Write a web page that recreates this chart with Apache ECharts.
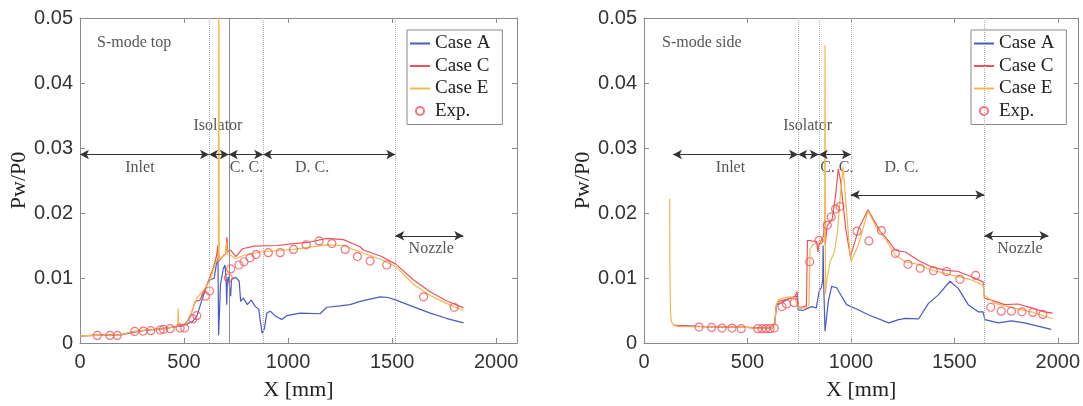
<!DOCTYPE html>
<html>
<head>
<meta charset="utf-8">
<title>S-mode wall pressure</title>
<script src="https://cdn.jsdelivr.net/npm/echarts@6.0.0/dist/echarts.min.js"></script>
<style>
  html, body { margin: 0; padding: 0; background: #fff; }
  #chart { width: 1083px; height: 406px; }
</style>
</head>
<body>
<div id="chart"></div>
<script>
// ---------- S-mode top wall: [X mm, Pw/P0] ----------
const topCaseA = [
  [0, 0.0011], [100, 0.0012], [200, 0.0013], [300, 0.0019], [400, 0.0022], [500, 0.0027],
  [540, 0.0033], [561, 0.0041], [590, 0.0070], [609, 0.0089], [625, 0.0097], [645, 0.0100],
  [657, 0.0125], [663, 0.0130], [666, 0.0012], [670, 0.0012], [675, 0.0090], [689, 0.0115],
  [697, 0.0120], [702, 0.0100], [705, 0.0059], [708, 0.0095], [713, 0.0102], [720, 0.0100],
  [724, 0.0072], [728, 0.0098], [733, 0.0099], [749, 0.0101], [765, 0.0095], [772, 0.0064],
  [785, 0.0069], [804, 0.0059], [823, 0.0066], [843, 0.0056], [859, 0.0052], [867, 0.0033],
  [875, 0.0015], [886, 0.0022], [898, 0.0046], [914, 0.0049], [937, 0.0042], [969, 0.0036],
  [994, 0.0042], [1058, 0.0046], [1154, 0.0045], [1186, 0.0055], [1250, 0.0057], [1298, 0.0059],
  [1346, 0.0064], [1442, 0.0071], [1480, 0.0070], [1519, 0.0066], [1600, 0.0056], [1683, 0.0046],
  [1760, 0.0038], [1843, 0.0031]
];
const topCaseC = [
  [0, 0.0011], [100, 0.0012], [200, 0.0013], [250, 0.0017], [300, 0.0019], [400, 0.0022],
  [460, 0.0025], [500, 0.0027], [530, 0.0040], [553, 0.0064], [577, 0.0066], [609, 0.0089],
  [640, 0.0115], [657, 0.0135], [662, 0.0150], [665, 0.0125], [690, 0.0135], [700, 0.0137],
  [706, 0.0163], [710, 0.0140], [724, 0.0143], [749, 0.0133], [781, 0.0145], [837, 0.0149],
  [949, 0.0150], [1026, 0.0153], [1100, 0.0155], [1186, 0.0161], [1266, 0.0159], [1346, 0.0148],
  [1362, 0.0143], [1450, 0.0133], [1519, 0.0121], [1603, 0.0097], [1683, 0.0079], [1760, 0.0065],
  [1843, 0.0054]
];
const topCaseE = [
  [0, 0.0011], [100, 0.0012], [200, 0.0013], [250, 0.0017], [300, 0.0019], [400, 0.0022],
  [460, 0.0025], [470, 0.0026], [472, 0.0053], [475, 0.0030], [490, 0.0027], [510, 0.0028],
  [535, 0.0046], [561, 0.0069], [601, 0.0084], [625, 0.0097], [654, 0.0125], [665, 0.0128],
  [667, 0.065], [669, 0.0130], [689, 0.0133], [700, 0.0137], [704, 0.0155],
  [708, 0.0137], [724, 0.0135], [749, 0.0130], [789, 0.0135], [869, 0.0140], [1026, 0.0144],
  [1186, 0.0151], [1266, 0.0150], [1346, 0.0140], [1362, 0.0138], [1450, 0.0128], [1519, 0.0117],
  [1603, 0.0090], [1683, 0.0073], [1760, 0.0061], [1843, 0.0050]
];
const topExp = [
  [83, 0.00117], [144, 0.00117], [179, 0.00117], [263, 0.00178], [304, 0.00183], [340, 0.0019],
  [385, 0.0020], [401, 0.0021], [433, 0.0022], [481, 0.0023], [503, 0.0023], [542, 0.0037],
  [561, 0.0042], [603, 0.0072], [622, 0.0080], [713, 0.0100], [724, 0.0114], [764, 0.0120],
  [788, 0.0125], [817, 0.0131], [846, 0.0136], [905, 0.0139], [962, 0.0139], [1026, 0.0144],
  [1087, 0.0151], [1149, 0.0157], [1210, 0.0153], [1274, 0.0144], [1333, 0.0133], [1394, 0.0126],
  [1474, 0.0120], [1651, 0.0071], [1798, 0.0055]
];

// ---------- S-mode side wall: [X mm, Pw/P0] ----------
const sideCaseA = [
  [145, 0.0027], [300, 0.0025], [500, 0.0024], [620, 0.0023], [632, 0.0030], [640, 0.0058],
  [700, 0.0068], [740, 0.0072], [745, 0.0051], [769, 0.0050], [809, 0.0056], [833, 0.0054],
  [846, 0.0079], [857, 0.0085], [864, 0.0097], [866, 0.0150], [868, 0.0097], [875, 0.0018],
  [891, 0.0064], [907, 0.0087], [931, 0.0085], [955, 0.0072], [979, 0.0059], [1001, 0.0056],
  [1022, 0.0053], [1087, 0.0043], [1183, 0.0031], [1231, 0.0036], [1263, 0.0038], [1327, 0.0037],
  [1375, 0.0061], [1423, 0.0074], [1479, 0.0095], [1519, 0.0084], [1567, 0.0059], [1615, 0.0048],
  [1639, 0.0048], [1648, 0.0036], [1712, 0.0031], [1776, 0.0034], [1840, 0.0031], [1968, 0.0021]
];
const sideCaseC = [
  [145, 0.0027], [300, 0.0025], [500, 0.0024], [530, 0.0023], [620, 0.0023], [632, 0.0030],
  [640, 0.0058], [650, 0.0064], [700, 0.0068], [730, 0.0072], [740, 0.0079], [745, 0.0056],
  [760, 0.0055], [785, 0.0057], [790, 0.0158], [810, 0.0157], [835, 0.0156], [840, 0.0140],
  [845, 0.0150], [860, 0.0160], [868, 0.0165], [873, 0.0190], [876, 0.0150], [885, 0.0180],
  [910, 0.0191], [926, 0.0227], [939, 0.0268], [950, 0.0250], [975, 0.0176], [998, 0.0133],
  [1038, 0.0176], [1083, 0.0205], [1111, 0.0189], [1143, 0.0171], [1167, 0.0163], [1215, 0.0143],
  [1263, 0.0140], [1327, 0.0127], [1391, 0.0117], [1455, 0.0112], [1519, 0.0110], [1583, 0.0102],
  [1639, 0.0094], [1645, 0.0069], [1696, 0.0064], [1744, 0.0059], [1808, 0.0060], [1872, 0.0054],
  [1936, 0.0048], [1976, 0.0046]
];
const sideCaseE = [
  [124, 0.0222], [125, 0.0117], [128, 0.0050], [132, 0.0033], [145, 0.0027], [170, 0.0025],
  [300, 0.0025], [500, 0.0024], [530, 0.0023], [620, 0.0023], [632, 0.0030], [640, 0.0060],
  [650, 0.0066], [670, 0.0069], [700, 0.0071], [730, 0.0070], [745, 0.0054], [760, 0.0053],
  [790, 0.0055], [797, 0.0060], [803, 0.0145], [820, 0.0152], [845, 0.0155], [860, 0.0155],
  [873, 0.0160], [875, 0.0458], [877, 0.0075], [885, 0.0100], [900, 0.0125], [920, 0.0140],
  [935, 0.0170], [950, 0.0230], [962, 0.0271], [968, 0.0268], [980, 0.0200], [995, 0.0140],
  [1001, 0.0125], [1038, 0.0153], [1083, 0.0203], [1123, 0.0178], [1167, 0.0160], [1215, 0.0135],
  [1263, 0.0125], [1327, 0.0121], [1391, 0.0112], [1455, 0.0107], [1519, 0.0102], [1583, 0.0097],
  [1639, 0.0089], [1645, 0.0074], [1696, 0.0061], [1744, 0.0057], [1808, 0.0052], [1872, 0.0048],
  [1968, 0.0038], [1975, 0.0038]
];
const sideExp = [
  [266, 0.00245], [327, 0.0024], [377, 0.0023], [425, 0.0023], [470, 0.0022], [550, 0.0022],
  [571, 0.0022], [590, 0.0022], [609, 0.0022], [630, 0.0023], [667, 0.0056], [689, 0.0060],
  [726, 0.0062], [801, 0.0125], [846, 0.0158], [886, 0.0181], [905, 0.0194], [926, 0.0206],
  [947, 0.0210], [1030, 0.0172], [1087, 0.0157], [1148, 0.0173], [1215, 0.0138], [1276, 0.0121],
  [1335, 0.0115], [1399, 0.0111], [1463, 0.0110], [1527, 0.0098], [1603, 0.0104], [1676, 0.0055],
  [1727, 0.0049], [1776, 0.0049], [1827, 0.0048], [1880, 0.0047], [1928, 0.0044]
];

// ---------- Engine sections: boundaries, spans (arrows) and labels ----------
const topBounds = [620, 715, 880, 1515];
const sideBounds = [745, 845, 1000, 1645];
const topSpans = [[0, 620, 0.029], [620, 715, 0.029], [715, 880, 0.029], [880, 1515, 0.029], [1515, 1842, 0.0165]];
const sideSpans = [[140, 745, 0.029], [745, 845, 0.029], [845, 1000, 0.029], [1000, 1645, 0.0228], [1645, 1955, 0.0165]];
const sectionNames = ['Inlet', 'Isolator', 'C. C.', 'D. C.', 'Nozzle'];
const topLabelPos = [[288, 0.027], [663, 0.0334], [800, 0.027], [1115, 0.027], [1688, 0.0145]];
const sideLabelPos = [[418, 0.027], [791, 0.0334], [932, 0.027], [1245, 0.027], [1817, 0.0145]];
const panelTitles = ['S-mode top', 'S-mode side'];
const panelTitlePos = [[82, 0.0462], [87, 0.0462]];

// ---------- Axes ----------
const xTicks = { min: 0, max: 2100, interval: 500 };
const yTicks = { min: 0, max: 0.05, interval: 0.01 };
const seriesNames = ['Case A', 'Case C', 'Case E', 'Exp.'];

const SERIF = "'Liberation Serif', 'Times New Roman', serif";
const SANS = "'Liberation Sans', Arial, sans-serif";
const BOX = '#8a8a8a';
const COL_A = '#4a5bbf', COL_C = '#f0525c', COL_E = '#f5b84a';

const grids = [
  { left: 80, top: 18, width: 437, height: 327 },
  { left: 644, top: 18, width: 437, height: 327 }
];

function xAxesFor(gi) {
  const common = {
    type: 'value', gridIndex: gi, min: xTicks.min, max: xTicks.max, interval: xTicks.interval,
    axisLine: { show: true, onZero: false, lineStyle: { color: BOX, width: 1 } },
    axisTick: { show: true, inside: true, length: 5, lineStyle: { color: BOX } },
    splitLine: { show: false }
  };
  return [
    Object.assign({}, common, {
      position: 'bottom',
      axisLabel: {
        show: true, showMaxLabel: false, margin: 9, color: '#333', fontFamily: SANS, fontSize: 20,
        formatter: v => String(v)
      },
      name: 'X [mm]', nameLocation: 'middle', nameGap: 36,
      nameTextStyle: { fontFamily: SERIF, fontSize: 22, color: '#222' }
    }),
    Object.assign({}, common, { position: 'top', axisLabel: { show: false } })
  ];
}

function yAxesFor(gi) {
  const common = {
    type: 'value', gridIndex: gi, min: yTicks.min, max: yTicks.max, interval: yTicks.interval,
    axisLine: { show: true, onZero: false, lineStyle: { color: BOX, width: 1 } },
    axisTick: { show: true, inside: true, length: 5, lineStyle: { color: BOX } },
    splitLine: { show: false }
  };
  return [
    Object.assign({}, common, {
      position: 'left',
      axisLabel: {
        show: true, margin: 7, color: '#333', fontFamily: SANS, fontSize: 20,
        formatter: v => (v === 0 ? '0' : v.toFixed(2))
      },
      name: 'Pw/P0', nameLocation: 'middle', nameGap: 49,
      nameTextStyle: { fontFamily: SERIF, fontSize: 22, color: '#222' }
    }),
    Object.assign({}, common, { position: 'right', axisLabel: { show: false } })
  ];
}

function lineSeries(name, data, color, gi) {
  return {
    name, type: 'line', xAxisIndex: gi * 2, yAxisIndex: gi * 2, data,
    symbol: 'none', clip: true, z: 3,
    lineStyle: { color, width: 1.2 }, itemStyle: { color },
    emphasis: { disabled: true }, animation: false
  };
}

function expSeries(data, gi) {
  return {
    name: 'Exp.', type: 'scatter', xAxisIndex: gi * 2, yAxisIndex: gi * 2, data,
    symbol: 'circle', symbolSize: 8, z: 5,
    itemStyle: { color: 'rgba(255,255,255,0)', borderColor: COL_C, borderWidth: 1.2 },
    emphasis: { disabled: true }, animation: false
  };
}

function sectionSeries(gi, bounds, spans, labelPos) {
  const boundLines = bounds.map((b, i) => ({
    xAxis: b,
    lineStyle: (gi === 0 && i === 1)
      ? { color: '#8f8f8f', type: 'solid', width: 1 }
      : { color: '#b0b0b0', type: 'dotted', width: 1 }
  }));
  const arrows = spans.map(s => [
    { coord: [s[0], s[2]], symbol: 'arrow', symbolSize: [7, 9] },
    { coord: [s[1], s[2]], symbol: 'arrow', symbolSize: [7, 9], lineStyle: { color: '#333', width: 1, type: 'solid' } }
  ]);
  const labels = sectionNames.map((n, i) => ({ name: n, value: labelPos[i] }));
  labels.push({
    name: panelTitles[gi], value: panelTitlePos[gi],
    label: { align: 'left' }
  });
  return {
    name: 'sections', type: 'scatter', xAxisIndex: gi * 2, yAxisIndex: gi * 2,
    data: labels, symbolSize: 1, z: 2,
    itemStyle: { color: 'rgba(0,0,0,0)' },
    label: {
      show: true, position: 'inside', formatter: '{b}',
      fontFamily: SERIF, fontSize: 16, color: '#2a2a2a'
    },
    emphasis: { disabled: true }, silent: true, animation: false,
    markLine: {
      silent: true, animation: false, symbol: ['none', 'none'],
      label: { show: false },
      lineStyle: { color: '#333', width: 1, type: 'solid' },
      emphasis: { disabled: true },
      data: boundLines.concat(arrows)
    }
  };
}

function legendFor(left) {
  // line entries show only their stroke; the experiment entry shows its circle
  const items = seriesNames.map(n => (n === 'Exp.' ? { name: n } : { name: n, itemStyle: { opacity: 0 } }));
  return {
    data: items,
    left, top: 30, orient: 'vertical',
    itemWidth: 20, itemHeight: 8, itemGap: 1.5,
    padding: [3, 12, 3, 2],
    borderColor: '#8a8a8a', borderWidth: 1, backgroundColor: '#fff',
    textStyle: { fontFamily: SERIF, fontSize: 19, color: '#222', lineHeight: 21 },
    selectedMode: false
  };
}

const option = {
  backgroundColor: '#fff',
  animation: false,
  grid: grids,
  xAxis: xAxesFor(0).concat(xAxesFor(1)),
  yAxis: yAxesFor(0).concat(yAxesFor(1)),
  legend: [legendFor(407), legendFor(971)],
  series: [
    sectionSeries(0, topBounds, topSpans, topLabelPos),
    lineSeries('Case A', topCaseA, COL_A, 0),
    lineSeries('Case C', topCaseC, COL_C, 0),
    lineSeries('Case E', topCaseE, COL_E, 0),
    expSeries(topExp, 0),
    sectionSeries(1, sideBounds, sideSpans, sideLabelPos),
    lineSeries('Case A', sideCaseA, COL_A, 1),
    lineSeries('Case C', sideCaseC, COL_C, 1),
    lineSeries('Case E', sideCaseE, COL_E, 1),
    expSeries(sideExp, 1)
  ]
};

const chart = echarts.init(document.getElementById('chart'), null, { renderer: 'canvas' });
chart.setOption(option);
</script>
</body>
</html>
